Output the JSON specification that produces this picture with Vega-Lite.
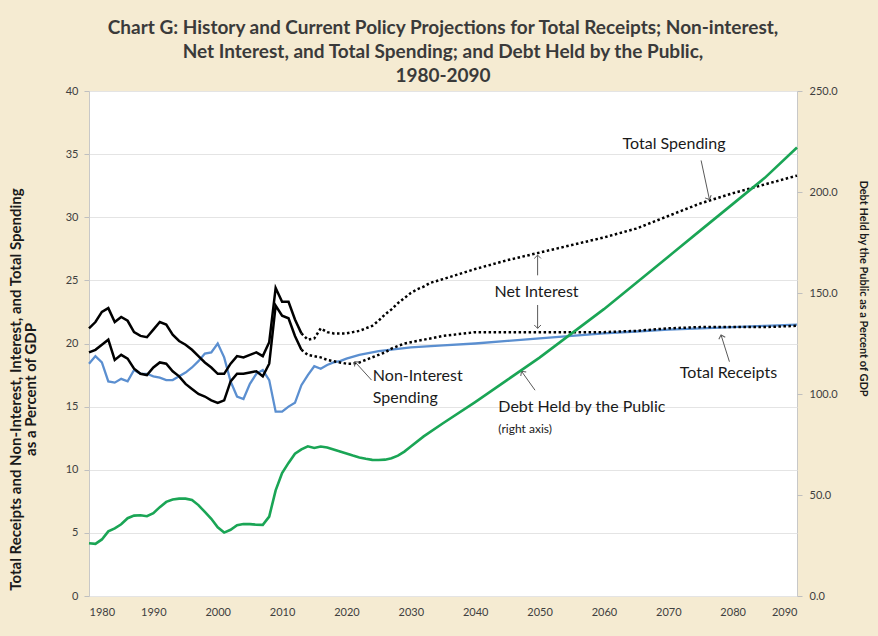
{
  "$schema": "https://vega.github.io/schema/vega-lite/v6.json",
  "width": 708,
  "height": 505,
  "autosize": {"type": "none"},
  "padding": {"left": 89, "top": 91, "right": 81, "bottom": 40},
  "background": "#f5ebd2",
  "title": {
    "text": ["Chart G:  History and Current Policy Projections for Total Receipts; Non-interest,", "Net Interest, and Total Spending; and Debt Held by the Public,", "1980-2090"],
    "anchor": "middle",
    "font": "Lato",
    "fontSize": 19,
    "fontWeight": "bold",
    "color": "#3a3a3a",
    "lineHeight": 24,
    "offset": -1
  },
  "config": {
    "view": {"fill": "white", "stroke": "#c8c8c8"},
    "axis": {"labelFont": "Lato", "titleFont": "Lato", "labelColor": "#404040", "titleColor": "#1a1a1a"}
  },
  "datasets": {
    "lines": [
      {"s": "TSH", "year": 1980, "value": 21.2}, {"s": "TSH", "year": 1981, "value": 21.7}, {"s": "TSH", "year": 1982, "value": 22.5}, {"s": "TSH", "year": 1983, "value": 22.8}, {"s": "TSH", "year": 1984, "value": 21.7}, {"s": "TSH", "year": 1985, "value": 22.1}, {"s": "TSH", "year": 1986, "value": 21.8}, {"s": "TSH", "year": 1987, "value": 20.9}, {"s": "TSH", "year": 1988, "value": 20.6}, {"s": "TSH", "year": 1989, "value": 20.5}, {"s": "TSH", "year": 1990, "value": 21.1}, {"s": "TSH", "year": 1991, "value": 21.7}, {"s": "TSH", "year": 1992, "value": 21.5}, {"s": "TSH", "year": 1993, "value": 20.7}, {"s": "TSH", "year": 1994, "value": 20.2}, {"s": "TSH", "year": 1995, "value": 19.9}, {"s": "TSH", "year": 1996, "value": 19.5}, {"s": "TSH", "year": 1997, "value": 19.0}, {"s": "TSH", "year": 1998, "value": 18.5}, {"s": "TSH", "year": 1999, "value": 18.1}, {"s": "TSH", "year": 2000, "value": 17.6}, {"s": "TSH", "year": 2001, "value": 17.6}, {"s": "TSH", "year": 2002, "value": 18.4}, {"s": "TSH", "year": 2003, "value": 19.0}, {"s": "TSH", "year": 2004, "value": 18.9}, {"s": "TSH", "year": 2005, "value": 19.1}, {"s": "TSH", "year": 2006, "value": 19.3}, {"s": "TSH", "year": 2007, "value": 19.0}, {"s": "TSH", "year": 2008, "value": 20.1}, {"s": "TSH", "year": 2009, "value": 24.4}, {"s": "TSH", "year": 2010, "value": 23.3}, {"s": "TSH", "year": 2011, "value": 23.3}, {"s": "TSH", "year": 2012, "value": 21.9}, {"s": "TSH", "year": 2013, "value": 20.8},
      {"s": "NIH", "year": 1980, "value": 19.3}, {"s": "NIH", "year": 1981, "value": 19.5}, {"s": "NIH", "year": 1982, "value": 19.9}, {"s": "NIH", "year": 1983, "value": 20.3}, {"s": "NIH", "year": 1984, "value": 18.7}, {"s": "NIH", "year": 1985, "value": 19.1}, {"s": "NIH", "year": 1986, "value": 18.8}, {"s": "NIH", "year": 1987, "value": 18.0}, {"s": "NIH", "year": 1988, "value": 17.6}, {"s": "NIH", "year": 1989, "value": 17.5}, {"s": "NIH", "year": 1990, "value": 18.1}, {"s": "NIH", "year": 1991, "value": 18.5}, {"s": "NIH", "year": 1992, "value": 18.4}, {"s": "NIH", "year": 1993, "value": 17.8}, {"s": "NIH", "year": 1994, "value": 17.4}, {"s": "NIH", "year": 1995, "value": 16.8}, {"s": "NIH", "year": 1996, "value": 16.4}, {"s": "NIH", "year": 1997, "value": 16.0}, {"s": "NIH", "year": 1998, "value": 15.8}, {"s": "NIH", "year": 1999, "value": 15.5}, {"s": "NIH", "year": 2000, "value": 15.3}, {"s": "NIH", "year": 2001, "value": 15.5}, {"s": "NIH", "year": 2002, "value": 17.0}, {"s": "NIH", "year": 2003, "value": 17.6}, {"s": "NIH", "year": 2004, "value": 17.6}, {"s": "NIH", "year": 2005, "value": 17.7}, {"s": "NIH", "year": 2006, "value": 17.8}, {"s": "NIH", "year": 2007, "value": 17.4}, {"s": "NIH", "year": 2008, "value": 18.4}, {"s": "NIH", "year": 2009, "value": 23.0}, {"s": "NIH", "year": 2010, "value": 22.2}, {"s": "NIH", "year": 2011, "value": 22.0}, {"s": "NIH", "year": 2012, "value": 20.6}, {"s": "NIH", "year": 2013, "value": 19.5},
      {"s": "TSP", "year": 2013, "value": 20.8}, {"s": "TSP", "year": 2014, "value": 20.3}, {"s": "TSP", "year": 2015, "value": 20.4}, {"s": "TSP", "year": 2016, "value": 21.2}, {"s": "TSP", "year": 2017, "value": 20.9}, {"s": "TSP", "year": 2018, "value": 20.8}, {"s": "TSP", "year": 2019, "value": 20.8}, {"s": "TSP", "year": 2020, "value": 20.8}, {"s": "TSP", "year": 2021, "value": 20.9}, {"s": "TSP", "year": 2022, "value": 21.0}, {"s": "TSP", "year": 2023, "value": 21.2}, {"s": "TSP", "year": 2024, "value": 21.4}, {"s": "TSP", "year": 2025, "value": 21.8}, {"s": "TSP", "year": 2026, "value": 22.3}, {"s": "TSP", "year": 2027, "value": 22.7}, {"s": "TSP", "year": 2028, "value": 23.2}, {"s": "TSP", "year": 2029, "value": 23.6}, {"s": "TSP", "year": 2030, "value": 24.0}, {"s": "TSP", "year": 2031, "value": 24.3}, {"s": "TSP", "year": 2032, "value": 24.5}, {"s": "TSP", "year": 2033, "value": 24.8}, {"s": "TSP", "year": 2035, "value": 25.1}, {"s": "TSP", "year": 2040, "value": 25.9}, {"s": "TSP", "year": 2045, "value": 26.6}, {"s": "TSP", "year": 2050, "value": 27.2}, {"s": "TSP", "year": 2055, "value": 27.8}, {"s": "TSP", "year": 2060, "value": 28.4}, {"s": "TSP", "year": 2065, "value": 29.1}, {"s": "TSP", "year": 2070, "value": 30.1}, {"s": "TSP", "year": 2075, "value": 31.1}, {"s": "TSP", "year": 2080, "value": 31.9}, {"s": "TSP", "year": 2085, "value": 32.6}, {"s": "TSP", "year": 2090, "value": 33.3},
      {"s": "NIP", "year": 2013, "value": 19.5}, {"s": "NIP", "year": 2014, "value": 19.1}, {"s": "NIP", "year": 2015, "value": 19.0}, {"s": "NIP", "year": 2016, "value": 18.9}, {"s": "NIP", "year": 2017, "value": 18.7}, {"s": "NIP", "year": 2018, "value": 18.6}, {"s": "NIP", "year": 2019, "value": 18.5}, {"s": "NIP", "year": 2020, "value": 18.4}, {"s": "NIP", "year": 2021, "value": 18.4}, {"s": "NIP", "year": 2022, "value": 18.5}, {"s": "NIP", "year": 2023, "value": 18.7}, {"s": "NIP", "year": 2024, "value": 18.9}, {"s": "NIP", "year": 2025, "value": 19.1}, {"s": "NIP", "year": 2026, "value": 19.3}, {"s": "NIP", "year": 2027, "value": 19.6}, {"s": "NIP", "year": 2028, "value": 19.8}, {"s": "NIP", "year": 2029, "value": 20.0}, {"s": "NIP", "year": 2030, "value": 20.1}, {"s": "NIP", "year": 2032, "value": 20.3}, {"s": "NIP", "year": 2035, "value": 20.6}, {"s": "NIP", "year": 2040, "value": 20.9}, {"s": "NIP", "year": 2045, "value": 20.9}, {"s": "NIP", "year": 2050, "value": 20.9}, {"s": "NIP", "year": 2055, "value": 20.9}, {"s": "NIP", "year": 2060, "value": 20.9}, {"s": "NIP", "year": 2065, "value": 21.0}, {"s": "NIP", "year": 2070, "value": 21.2}, {"s": "NIP", "year": 2075, "value": 21.3}, {"s": "NIP", "year": 2080, "value": 21.3}, {"s": "NIP", "year": 2085, "value": 21.3}, {"s": "NIP", "year": 2090, "value": 21.4},
      {"s": "TR", "year": 1980, "value": 18.4}, {"s": "TR", "year": 1981, "value": 19.0}, {"s": "TR", "year": 1982, "value": 18.5}, {"s": "TR", "year": 1983, "value": 17.0}, {"s": "TR", "year": 1984, "value": 16.9}, {"s": "TR", "year": 1985, "value": 17.2}, {"s": "TR", "year": 1986, "value": 17.0}, {"s": "TR", "year": 1987, "value": 17.9}, {"s": "TR", "year": 1988, "value": 17.6}, {"s": "TR", "year": 1989, "value": 17.6}, {"s": "TR", "year": 1990, "value": 17.4}, {"s": "TR", "year": 1991, "value": 17.3}, {"s": "TR", "year": 1992, "value": 17.1}, {"s": "TR", "year": 1993, "value": 17.1}, {"s": "TR", "year": 1994, "value": 17.4}, {"s": "TR", "year": 1995, "value": 17.7}, {"s": "TR", "year": 1996, "value": 18.1}, {"s": "TR", "year": 1997, "value": 18.6}, {"s": "TR", "year": 1998, "value": 19.2}, {"s": "TR", "year": 1999, "value": 19.3}, {"s": "TR", "year": 2000, "value": 20.0}, {"s": "TR", "year": 2001, "value": 18.9}, {"s": "TR", "year": 2002, "value": 17.0}, {"s": "TR", "year": 2003, "value": 15.8}, {"s": "TR", "year": 2004, "value": 15.6}, {"s": "TR", "year": 2005, "value": 16.8}, {"s": "TR", "year": 2006, "value": 17.6}, {"s": "TR", "year": 2007, "value": 17.9}, {"s": "TR", "year": 2008, "value": 17.1}, {"s": "TR", "year": 2009, "value": 14.6}, {"s": "TR", "year": 2010, "value": 14.6}, {"s": "TR", "year": 2011, "value": 15.0}, {"s": "TR", "year": 2012, "value": 15.3}, {"s": "TR", "year": 2013, "value": 16.7}, {"s": "TR", "year": 2014, "value": 17.5}, {"s": "TR", "year": 2015, "value": 18.2}, {"s": "TR", "year": 2016, "value": 18.0}, {"s": "TR", "year": 2017, "value": 18.3}, {"s": "TR", "year": 2018, "value": 18.5}, {"s": "TR", "year": 2019, "value": 18.6}, {"s": "TR", "year": 2020, "value": 18.8}, {"s": "TR", "year": 2022, "value": 19.1}, {"s": "TR", "year": 2025, "value": 19.4}, {"s": "TR", "year": 2030, "value": 19.7}, {"s": "TR", "year": 2035, "value": 19.85}, {"s": "TR", "year": 2040, "value": 20.0}, {"s": "TR", "year": 2045, "value": 20.2}, {"s": "TR", "year": 2050, "value": 20.4}, {"s": "TR", "year": 2055, "value": 20.6}, {"s": "TR", "year": 2060, "value": 20.8}, {"s": "TR", "year": 2065, "value": 20.95}, {"s": "TR", "year": 2070, "value": 21.1}, {"s": "TR", "year": 2075, "value": 21.2}, {"s": "TR", "year": 2080, "value": 21.3}, {"s": "TR", "year": 2085, "value": 21.4}, {"s": "TR", "year": 2090, "value": 21.5}
    ],
    "debt": [
      {"year": 1980, "debt": 26.1}, {"year": 1981, "debt": 25.8}, {"year": 1982, "debt": 28.0}, {"year": 1983, "debt": 32.0}, {"year": 1984, "debt": 33.5}, {"year": 1985, "debt": 35.5}, {"year": 1986, "debt": 38.5}, {"year": 1987, "debt": 39.8}, {"year": 1988, "debt": 40.0}, {"year": 1989, "debt": 39.5}, {"year": 1990, "debt": 41.0}, {"year": 1991, "debt": 44.0}, {"year": 1992, "debt": 46.6}, {"year": 1993, "debt": 47.8}, {"year": 1994, "debt": 48.2}, {"year": 1995, "debt": 48.2}, {"year": 1996, "debt": 47.5}, {"year": 1997, "debt": 45.0}, {"year": 1998, "debt": 41.6}, {"year": 1999, "debt": 38.2}, {"year": 2000, "debt": 34.0}, {"year": 2001, "debt": 31.4}, {"year": 2002, "debt": 32.8}, {"year": 2003, "debt": 35.0}, {"year": 2004, "debt": 35.6}, {"year": 2005, "debt": 35.6}, {"year": 2006, "debt": 35.3}, {"year": 2007, "debt": 35.2}, {"year": 2008, "debt": 39.3}, {"year": 2009, "debt": 52.3}, {"year": 2010, "debt": 60.9}, {"year": 2011, "debt": 65.9}, {"year": 2012, "debt": 70.4}, {"year": 2013, "debt": 72.6}, {"year": 2014, "debt": 74.1}, {"year": 2015, "debt": 73.3}, {"year": 2016, "debt": 74.0}, {"year": 2017, "debt": 73.5}, {"year": 2018, "debt": 72.5}, {"year": 2019, "debt": 71.5}, {"year": 2020, "debt": 70.5}, {"year": 2021, "debt": 69.5}, {"year": 2022, "debt": 68.6}, {"year": 2023, "debt": 67.9}, {"year": 2024, "debt": 67.4}, {"year": 2025, "debt": 67.3}, {"year": 2026, "debt": 67.5}, {"year": 2027, "debt": 68.2}, {"year": 2028, "debt": 69.5}, {"year": 2029, "debt": 71.5}, {"year": 2030, "debt": 74.0}, {"year": 2032, "debt": 79.0}, {"year": 2035, "debt": 85.5}, {"year": 2040, "debt": 96.0}, {"year": 2045, "debt": 107.0}, {"year": 2050, "debt": 118.0}, {"year": 2055, "debt": 130.0}, {"year": 2060, "debt": 142.0}, {"year": 2065, "debt": 155.0}, {"year": 2070, "debt": 168.0}, {"year": 2075, "debt": 181.0}, {"year": 2080, "debt": 194.0}, {"year": 2085, "debt": 207.0}, {"year": 2090, "debt": 222.0}
    ],
    "arrows": [
      {"year": 2075.1, "value": 34.5, "year2": 2076.4, "value2": 31.4},
      {"year": 2049.7, "value": 25.4, "year2": 2049.7, "value2": 27.0},
      {"year": 2049.7, "value": 23.05, "year2": 2049.7, "value2": 21.2},
      {"year": 2023.9, "value": 17.1, "year2": 2021.3, "value2": 18.56},
      {"year": 2049.3, "value": 16.3, "year2": 2047.2, "value2": 17.8},
      {"year": 2079.5, "value": 18.56, "year2": 2078.2, "value2": 20.67}
    ],
    "heads": [
      {"year": 2076.4, "value": 31.4, "ang": 156},
      {"year": 2049.7, "value": 27.0, "ang": 0},
      {"year": 2049.7, "value": 21.2, "ang": 180},
      {"year": 2021.3, "value": 18.56, "ang": 318},
      {"year": 2047.2, "value": 17.8, "ang": 324},
      {"year": 2078.2, "value": 20.67, "ang": 343}
    ],
    "labels": [
      {"year": 2062.9, "value": 35.8, "label": "Total Spending"},
      {"year": 2043.0, "value": 24.1, "label": "Net Interest"},
      {"year": 2024.1, "value": 17.4, "label": "Non-Interest"},
      {"year": 2024.1, "value": 15.66, "label": "Spending"},
      {"year": 2043.6, "value": 15.0, "label": "Debt Held by the Public"},
      {"year": 2071.8, "value": 17.7, "label": "Total Receipts"}
    ],
    "small": [
      {"year": 2043.6, "value": 13.2, "label": "(right axis)"}
    ]
  },
  "encoding": {
    "x": {
      "field": "year",
      "type": "quantitative",
      "scale": {"domain": [1980, 2090], "nice": false, "zero": false},
      "axis": {"values": [1980, 1990, 2000, 2010, 2020, 2030, 2040, 2050, 2060, 2070, 2080, 2090], "format": "d", "grid": false, "ticks": false, "domain": false, "labelPadding": 10, "labelFontSize": 11, "title": null}
    }
  },
  "layer": [
    {
      "encoding": {
        "y": {
          "field": "value",
          "type": "quantitative",
          "scale": {"domain": [0, 40], "nice": false, "zero": true},
          "axis": {
            "values": [0, 5, 10, 15, 20, 25, 30, 35, 40],
            "grid": true,
            "gridColor": "#e4e4e4",
            "domain": false,
            "tickSize": 5,
            "tickColor": "#bfbfbf",
            "labelPadding": 6,
            "labelFontSize": 11,
            "title": ["Total Receipts and Non-Interest, Interest, and Total Spending", "as a Percent of GDP"],
            "titleFontSize": 15,
            "titleFontWeight": "bold",
            "titleAngle": -90,
            "titleBaseline": "bottom",
            "titleLineHeight": 15,
            "titleX": -66,
            "titleY": 298
          }
        }
      },
      "layer": [
        {
          "data": {"name": "lines"},
          "transform": [{"filter": "datum.s === 'TR'"}],
          "mark": {"type": "line", "color": "#5b8fd0", "strokeWidth": 2.3},
          "encoding": {"detail": {"field": "s"}}
        },
        {
          "data": {"name": "lines"},
          "transform": [{"filter": "datum.s === 'TSH' || datum.s === 'NIH'"}],
          "mark": {"type": "line", "color": "#000000", "strokeWidth": 2.5},
          "encoding": {"detail": {"field": "s"}}
        },
        {
          "data": {"name": "lines"},
          "transform": [{"filter": "datum.s === 'TSP' || datum.s === 'NIP'"}],
          "mark": {"type": "line", "color": "#000000", "strokeWidth": 2.5, "strokeDash": [2.5, 2.5]},
          "encoding": {"detail": {"field": "s"}}
        },
        {
          "data": {"name": "arrows"},
          "mark": {"type": "rule", "color": "#595959", "strokeWidth": 1},
          "encoding": {"x2": {"field": "year2"}, "y2": {"field": "value2"}}
        },
        {
          "data": {"name": "heads"},
          "mark": {"type": "point", "shape": "M-1,1L0,0L1,1", "filled": false, "size": 45, "stroke": "#595959", "strokeWidth": 1, "opacity": 1},
          "encoding": {"angle": {"field": "ang", "type": "quantitative", "scale": null}}
        },
        {
          "data": {"name": "labels"},
          "mark": {"type": "text", "font": "Lato", "fontSize": 16, "align": "left", "baseline": "middle", "color": "#1a1a1a"},
          "encoding": {"text": {"field": "label"}}
        },
        {
          "data": {"name": "small"},
          "mark": {"type": "text", "font": "Lato", "fontSize": 12, "align": "left", "baseline": "middle", "color": "#1a1a1a"},
          "encoding": {"text": {"field": "label"}}
        }
      ]
    },
    {
      "data": {"name": "debt"},
      "mark": {"type": "line", "color": "#1aa555", "strokeWidth": 2.6},
      "encoding": {
        "y": {
          "field": "debt",
          "type": "quantitative",
          "scale": {"domain": [0, 250], "nice": false, "zero": true},
          "axis": {
            "orient": "right",
            "values": [0, 50, 100, 150, 200, 250],
            "format": ".1f",
            "grid": false,
            "domain": false,
            "tickSize": 5,
            "tickColor": "#bfbfbf",
            "labelPadding": 7,
            "labelFontSize": 11,
            "title": "Debt Held by the Public as a Percent of GDP",
            "titleFontSize": 11,
            "titleFontWeight": "bold",
            "titleAngle": 90,
            "titleBaseline": "bottom",
            "titleX": 60,
            "titleY": 197
          }
        }
      }
    }
  ],
  "resolve": {"scale": {"y": "independent"}}
}
